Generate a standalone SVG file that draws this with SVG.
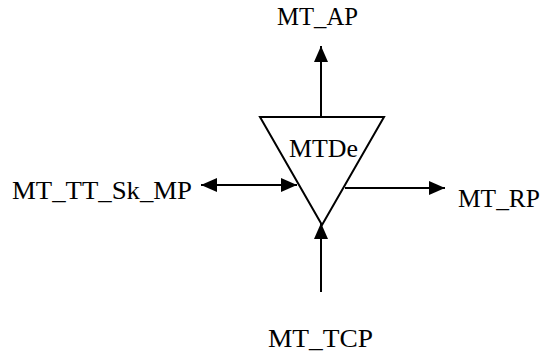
<svg xmlns="http://www.w3.org/2000/svg" width="541" height="351" viewBox="0 0 541 351">
<style>
text{font-family:"Liberation Serif","Times New Roman",serif;font-size:25px;fill:#000}
.ln{stroke:#000;stroke-width:2;fill:none}
</style>
<defs>
<marker id="ah" viewBox="0 0 16 14" refX="16" refY="7" markerWidth="16" markerHeight="14" markerUnits="userSpaceOnUse" orient="auto-start-reverse">
<path d="M0,0L16,7L0,14Z" fill="#000"/>
</marker>
</defs>
<rect width="541" height="351" fill="#fff"/>
<g id="MTDe">
<polygon class="ln" points="260,117 384,117 322,225"/>
<text x="289" y="157" style="font-size:26px" textLength="69" lengthAdjust="spacingAndGlyphs">MTDe</text>
</g>
<g id="MT_AP"><text x="277" y="25" textLength="81" lengthAdjust="spacingAndGlyphs">MT_AP</text></g>
<g id="MT_TT_Sk_MP"><text x="12" y="199" textLength="180" lengthAdjust="spacingAndGlyphs">MT_TT_Sk_MP</text></g>
<g id="MT_RP"><text x="458" y="207" textLength="82" lengthAdjust="spacingAndGlyphs">MT_RP</text></g>
<g id="MT_TCP"><text x="268" y="347" textLength="105" lengthAdjust="spacingAndGlyphs">MT_TCP</text></g>
<g id="connectors">
<line class="ln" x1="321" y1="117" x2="321" y2="46" marker-end="url(#ah)"/>
<line class="ln" x1="201" y1="185" x2="297" y2="185" marker-start="url(#ah)" marker-end="url(#ah)"/>
<line class="ln" x1="345" y1="188" x2="445" y2="188" marker-end="url(#ah)"/>
<line class="ln" x1="321" y1="292" x2="321" y2="223" marker-end="url(#ah)"/>
</g>
</svg>
